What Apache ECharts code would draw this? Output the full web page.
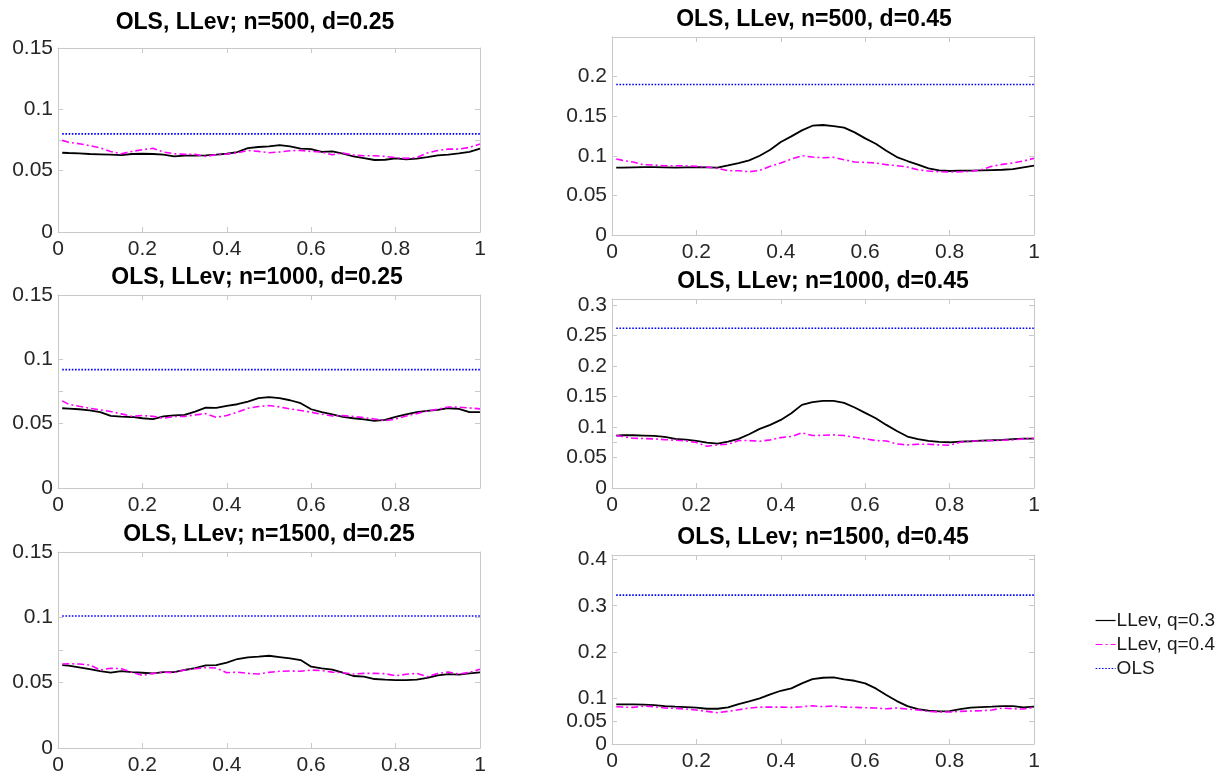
<!DOCTYPE html>
<html>
<head>
<meta charset="utf-8">
<script src="https://cdn.jsdelivr.net/npm/echarts@6/dist/echarts.min.js"></script>
<style>html,body{margin:0;padding:0;background:#fff}#c{width:1221px;height:776px}</style>
</head>
<body>
<div id="c"></div>
<script>
// ---- data ----
const xs = [0.01,0.025,0.05,0.075,0.1,0.125,0.15,0.175,0.2,0.225,0.25,0.275,0.3,0.325,0.35,0.375,0.4,0.425,0.45,0.475,0.5,0.525,0.55,0.575,0.6,0.625,0.65,0.675,0.7,0.725,0.75,0.775,0.8,0.825,0.85,0.875,0.9,0.925,0.95,0.975,1.0];
const seriesNames = ['LLev, q=0.3', 'LLev, q=0.4', 'OLS'];
const titles = ['OLS, LLev; n=500, d=0.25','OLS, LLev, n=500, d=0.45','OLS, LLev; n=1000, d=0.25','OLS, LLev; n=1000, d=0.45','OLS, LLev; n=1500, d=0.25','OLS, LLev; n=1500, d=0.45'];
const xTickLabels = [0,0.2,0.4,0.6,0.8,1];
const xTickLabelsShort = [0,0.2,0.4,0.6,0.8];
const yLabelsLeft = [0,0.05,0.1,0.15];
const yLabelsR1 = [0,0.05,0.1,0.15,0.2];
const yLabelsR2 = [0,0.05,0.1,0.15,0.2,0.25,0.3];
const yLabelsR3 = [0,0.05,0.1,0.2,0.3,0.4];

const q3_n500_d25 = [0.0646,0.0644,0.0641,0.0636,0.0633,0.0630,0.0627,0.0636,0.0638,0.0636,0.0630,0.0616,0.0622,0.0622,0.0625,0.0630,0.0638,0.0652,0.0684,0.0693,0.0698,0.0709,0.0698,0.0679,0.0676,0.0654,0.0657,0.0638,0.0616,0.0603,0.0587,0.0589,0.0600,0.0592,0.0598,0.0611,0.0625,0.0630,0.0641,0.0654,0.0679];
const q4_n500_d25 = [0.0747,0.0731,0.0720,0.0704,0.0685,0.0657,0.0638,0.0657,0.0671,0.0682,0.0652,0.0638,0.0633,0.0633,0.0616,0.0630,0.0636,0.0646,0.0665,0.0657,0.0646,0.0652,0.0663,0.0665,0.0657,0.0652,0.0630,0.0644,0.0627,0.0622,0.0622,0.0616,0.0606,0.0600,0.0606,0.0644,0.0665,0.0676,0.0676,0.0690,0.0717];
const ols_n500_d25 = 0.080;

const q3_n500_d45 = [0.0850,0.0850,0.0854,0.0858,0.0858,0.0854,0.0850,0.0854,0.0858,0.0854,0.0850,0.0879,0.0909,0.0942,0.1001,0.1077,0.1174,0.1245,0.1321,0.1380,0.1389,0.1376,0.1355,0.1296,0.1220,0.1153,0.1064,0.0984,0.0934,0.0888,0.0841,0.0816,0.0808,0.0812,0.0812,0.0816,0.0820,0.0824,0.0833,0.0854,0.0875];
const q4_n500_d45 = [0.0959,0.0942,0.0921,0.0888,0.0883,0.0875,0.0875,0.0875,0.0867,0.0858,0.0841,0.0812,0.0812,0.0799,0.0816,0.0867,0.0909,0.0959,0.1001,0.0984,0.0976,0.0980,0.0951,0.0921,0.0917,0.0909,0.0888,0.0875,0.0858,0.0824,0.0808,0.0799,0.0795,0.0799,0.0803,0.0824,0.0867,0.0892,0.0909,0.0934,0.0968];
const ols_n500_d45 = 0.190;

const q3_n1000_d25 = [0.0620,0.0617,0.0612,0.0604,0.0589,0.0560,0.0555,0.0552,0.0542,0.0536,0.0557,0.0565,0.0568,0.0594,0.0625,0.0622,0.0638,0.0651,0.0672,0.0698,0.0706,0.0698,0.0682,0.0659,0.0612,0.0589,0.0573,0.0552,0.0542,0.0534,0.0521,0.0529,0.0552,0.0573,0.0589,0.0599,0.0607,0.0620,0.0615,0.0589,0.0589];
const q4_n1000_d25 = [0.0677,0.0651,0.0635,0.0620,0.0607,0.0594,0.0576,0.0557,0.0563,0.0557,0.0542,0.0555,0.0557,0.0568,0.0578,0.0549,0.0563,0.0589,0.0620,0.0633,0.0641,0.0630,0.0615,0.0602,0.0589,0.0573,0.0560,0.0563,0.0555,0.0547,0.0536,0.0523,0.0536,0.0560,0.0578,0.0599,0.0612,0.0630,0.0628,0.0622,0.0615];
const ols_n1000_d25 = 0.092;

const q3_n1000_d45 = [0.0860,0.0865,0.0865,0.0860,0.0854,0.0838,0.0805,0.0794,0.0772,0.0745,0.0729,0.0761,0.0805,0.0882,0.0969,0.1035,0.1117,0.1227,0.1363,0.1407,0.1429,0.1429,0.1396,0.1320,0.1232,0.1145,0.1035,0.0936,0.0844,0.0800,0.0772,0.0756,0.0750,0.0761,0.0767,0.0778,0.0783,0.0789,0.0800,0.0811,0.0811];
const q4_n1000_d45 = [0.0860,0.0844,0.0816,0.0811,0.0805,0.0794,0.0783,0.0772,0.0745,0.0685,0.0707,0.0718,0.0778,0.0778,0.0767,0.0789,0.0827,0.0844,0.0904,0.0860,0.0865,0.0871,0.0860,0.0833,0.0805,0.0778,0.0772,0.0723,0.0707,0.0718,0.0718,0.0707,0.0701,0.0750,0.0772,0.0772,0.0778,0.0783,0.0789,0.0805,0.0816];
const ols_n1000_d45 = 0.262;

const q3_n1500_d25 = [0.0635,0.0630,0.0617,0.0604,0.0589,0.0576,0.0589,0.0581,0.0576,0.0571,0.0581,0.0581,0.0597,0.0612,0.0633,0.0635,0.0653,0.0681,0.0694,0.0699,0.0706,0.0696,0.0686,0.0673,0.0622,0.0610,0.0599,0.0576,0.0551,0.0546,0.0528,0.0523,0.0520,0.0520,0.0523,0.0536,0.0556,0.0566,0.0561,0.0571,0.0579];
const q4_n1500_d25 = [0.0643,0.0645,0.0643,0.0635,0.0597,0.0610,0.0607,0.0579,0.0556,0.0571,0.0581,0.0576,0.0597,0.0607,0.0615,0.0612,0.0576,0.0581,0.0571,0.0566,0.0579,0.0587,0.0589,0.0587,0.0597,0.0592,0.0581,0.0576,0.0566,0.0571,0.0571,0.0569,0.0553,0.0564,0.0571,0.0546,0.0571,0.0581,0.0566,0.0579,0.0602];
const ols_n1500_d25 = 0.101;

const q3_n1500_d45 = [0.0859,0.0859,0.0859,0.0852,0.0845,0.0823,0.0809,0.0801,0.0787,0.0765,0.0765,0.0794,0.0866,0.0924,0.0989,0.1076,0.1155,0.1206,0.1314,0.1408,0.1437,0.1444,0.1401,0.1372,0.1314,0.1206,0.1061,0.0931,0.0823,0.0758,0.0722,0.0708,0.0715,0.0758,0.0787,0.0801,0.0809,0.0823,0.0823,0.0794,0.0809];
const q4_n1500_d45 = [0.0809,0.0801,0.0794,0.0823,0.0809,0.0780,0.0773,0.0758,0.0736,0.0708,0.0679,0.0708,0.0744,0.0780,0.0801,0.0801,0.0801,0.0794,0.0809,0.0830,0.0809,0.0823,0.0801,0.0794,0.0787,0.0780,0.0765,0.0780,0.0758,0.0736,0.0708,0.0693,0.0693,0.0708,0.0715,0.0722,0.0736,0.0780,0.0765,0.0758,0.0794];
const ols_n1500_d45 = 0.323;

// ---- layout / panels ----
const panels = [
  {q3:q3_n500_d25,  q4:q4_n500_d25,  ols:ols_n500_d25,  ymax:0.15, yl:yLabelsLeft, yt:[0,0.05,0.075,0.1,0.15], xl:xTickLabels,
   grid:{left:58, top:48, width:422, height:184}, tc:[255,23]},
  {q3:q3_n500_d45,  q4:q4_n500_d45,  ols:ols_n500_d45,  ymax:0.25, yl:yLabelsR1, yt:yLabelsR1, xl:xTickLabels,
   grid:{left:612, top:37, width:422, height:198}, tc:[814,20]},
  {q3:q3_n1000_d25, q4:q4_n1000_d25, ols:ols_n1000_d25, ymax:0.15, yl:yLabelsLeft, yt:[0,0.05,0.075,0.1,0.15], xl:xTickLabelsShort,
   grid:{left:58, top:295, width:422, height:193}, tc:[257,278]},
  {q3:q3_n1000_d45, q4:q4_n1000_d45, ols:ols_n1000_d45, ymax:0.31, yl:yLabelsR2, yt:[0,0.05,0.075,0.1,0.15,0.2,0.25,0.3], xl:xTickLabels,
   grid:{left:612, top:299, width:422, height:189}, tc:[823,282]},
  {q3:q3_n1500_d25, q4:q4_n1500_d25, ols:ols_n1500_d25, ymax:0.15, yl:yLabelsLeft, yt:[0,0.05,0.075,0.1,0.15], xl:xTickLabels,
   grid:{left:58, top:552, width:422, height:196}, tc:[269,535]},
  {q3:q3_n1500_d45, q4:q4_n1500_d45, ols:ols_n1500_d45, ymax:0.41, yl:yLabelsR3, yt:yLabelsR3, xl:xTickLabels,
   grid:{left:612, top:555, width:422, height:189}, tc:[823,538]}
];

const BOX = '#c9c9c9';
const LBL = '#262626';
const FONT = '"Liberation Sans", Arial, Helvetica, sans-serif';

const grid = [], xAxis = [], yAxis = [], series = [], title = [];
panels.forEach((p, i) => {
  grid.push(Object.assign({containLabel:false}, p.grid));
  title.push({text: titles[i], left: p.tc[0], top: p.tc[1], textAlign:'center', textVerticalAlign:'middle', padding:0,
    textStyle:{fontFamily:FONT, fontSize:23, fontWeight:'bold', color:'#000'}});
  const xb = {type:'value', gridIndex:i, min:0, max:1, position:'bottom',
    axisLine:{show:true, onZero:false, lineStyle:{color:BOX, width:1}},
    axisTick:{show:true, inside:true, length:5, lineStyle:{color:BOX}, customValues:xTickLabels},
    axisLabel:{show:true, color:LBL, fontFamily:FONT, fontSize:21, margin:7, customValues:p.xl, formatter: v => String(v)},
    splitLine:{show:false}};
  const xt = {type:'value', gridIndex:i, min:0, max:1, position:'top',
    axisLine:{show:true, onZero:false, lineStyle:{color:BOX, width:1}},
    axisTick:{show:true, inside:true, length:5, lineStyle:{color:BOX}, customValues:xTickLabels},
    axisLabel:{show:false}, splitLine:{show:false}};
  const yl = {type:'value', gridIndex:i, min:0, max:p.ymax, position:'left',
    axisLine:{show:true, onZero:false, lineStyle:{color:BOX, width:1}},
    axisTick:{show:true, inside:true, length:5, lineStyle:{color:BOX}, customValues:p.yt},
    axisLabel:{show:true, color:LBL, fontFamily:FONT, fontSize:21, margin:5, customValues:p.yl, formatter: v => String(v)},
    splitLine:{show:false}};
  const yr = {type:'value', gridIndex:i, min:0, max:p.ymax, position:'right',
    axisLine:{show:true, onZero:false, lineStyle:{color:BOX, width:1}},
    axisTick:{show:true, inside:true, length:5, lineStyle:{color:BOX}, customValues:p.yt},
    axisLabel:{show:false}, splitLine:{show:false}};
  xAxis.push(xb, xt);
  yAxis.push(yl, yr);
  const xi = 2*i, yi = 2*i;
  series.push({name:seriesNames[0], type:'line', xAxisIndex:xi, yAxisIndex:yi, symbol:'none', animation:false,
    lineStyle:{color:'#000000', width:1.8, type:'solid'}, itemStyle:{color:'#000000'},
    data: xs.map((x,k)=>[x, p.q3[k]])});
  series.push({name:seriesNames[1], type:'line', xAxisIndex:xi, yAxisIndex:yi, symbol:'none', animation:false,
    lineStyle:{color:'#ff00ff', width:1.6, type:[7,3,2,3]}, itemStyle:{color:'#ff00ff'},
    data: xs.map((x,k)=>[x, p.q4[k]])});
  series.push({name:seriesNames[2], type:'line', xAxisIndex:xi, yAxisIndex:yi, symbol:'none', animation:false,
    lineStyle:{color:'#0000ff', width:1.6, type:[1.6,1.6]}, itemStyle:{color:'#0000ff'},
    data: [[xs[0], p.ols], [xs[xs.length-1], p.ols]]});
});

const chart = echarts.init(document.getElementById('c'), null, {renderer:'canvas'});
chart.setOption({
  backgroundColor:'#ffffff',
  animation:false,
  title: title,
  grid: grid,
  xAxis: xAxis,
  yAxis: yAxis,
  legend: {
    data: seriesNames, orient:'vertical', left:1095, top:611, padding:0,
    itemWidth:20, itemHeight:12, itemGap:5,
    itemStyle:{opacity:0},
    lineStyle:{width:1.2},
    textStyle:{fontFamily:FONT, fontSize:19, color:'#1a1a1a', lineHeight:19, padding:[0,0,0,-4]}
  },
  series: series
});
</script>
</body>
</html>
